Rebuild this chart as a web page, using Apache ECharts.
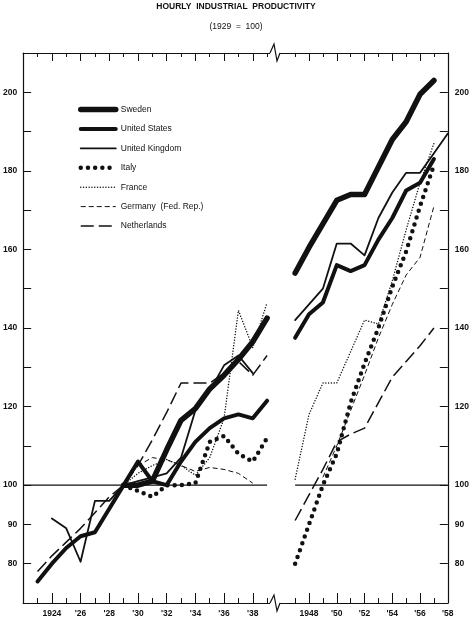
<!DOCTYPE html>
<html>
<head>
<meta charset="utf-8">
<script src="https://cdn.jsdelivr.net/npm/echarts@6/dist/echarts.min.js"></script>
<style>
  html, body { margin: 0; padding: 0; background: #fff; }
  #chart { width: 472px; height: 619px; }
</style>
</head>
<body>
<div id="chart"></div>
<script>
// years on each side of the break
const leftYears = [1923, 1924, 1925, 1926, 1927, 1928, 1929, 1930, 1931, 1932, 1933, 1934, 1935, 1936, 1937, 1938, 1939];
const rightYears = [1947, 1948, 1949, 1950, 1951, 1952, 1953, 1954, 1955, 1956, 1957, 1958];

// tick / label values
const leftLongTicks = [1924, 1926, 1928, 1930, 1932, 1934, 1936, 1938];
const leftShortTicks = [1923, 1925, 1927, 1929, 1931, 1933, 1935, 1937, 1939];
const rightLongTicks = [1948, 1950, 1952, 1954, 1956, 1958];
const rightShortTicks = [1947, 1949, 1951, 1953, 1955, 1957];
const yTicks = [80, 90, 100, 110, 120, 130, 140, 150, 160, 170, 180, 190, 200];
const yLabels = [80, 90, 100, 120, 140, 160, 180, 200];

// index, 1929 = 100 (left: 1923-39, right: 1947-58)
const swedenLeft = [null, null, null, null, null, null, 100, 100, 101, 109, 116.5, 119.5, 124.5, 128, 132, 136.5, 142.5];
const swedenRight = [154, 160.5, 166.5, 172.5, 174, 174, 181, 188, 192.5, 199.5, 203, null];
const usLeft = [75.5, 80, 84, 87, 88, 94, 100, 106, 101, 100, 106, 111, 114.5, 117, 118, 117, 121.5];
const usRight = [137.5, 143.5, 146.5, 156, 154.5, 156, 162.5, 168, 175, 177, 183, null];
const ukLeft = [null, 91.5, 89, 80.5, 96, 96, 100, 101, 102, 103, 107, 119, 124, 130.5, 133, 128.5, null];
const ukRight = [142, 146, 150, 161.5, 161.5, 158.5, 168, 174.5, 179.5, 179.5, 184.5, 189.5];
const italyLeft = [null, null, null, null, null, null, 100, 98.5, 97, 100, 100, 100.5, 111, 112.5, 108, 106, 112];
const italyRight = [80, 90, 100, 108, 121, 131, 140, 150.5, 159.5, 171, 181.5, null];
const franceLeft = [null, null, null, null, null, null, 100, 103, 105, 106.5, 105, 102.5, 107, 117, 144.5, 135, 146.5];
const franceRight = [101.5, 118, 126, 126, 134, 142, 141, 152, 165, 177, 187, null];
const germanyLeft = [null, null, null, null, null, null, 100, 105, 107, 106.5, 105, 103.5, 104.5, 104, 103, 100.5, null];
const germanyRight = [null, null, 102, 110, 119, 128, 137.5, 146, 153.5, 158, 171, null];
const netherlandsLeft = [78, 82, 85.5, 89, 93, 97, 100, 105, 111.5, 118.5, 126, 126, 126, 128.5, 131.5, 128, 133];
const netherlandsRight = [91, 97.5, 104, 111, 113, 114.5, 121, 127.5, 131.5, 135.5, 140, null];

const countries = ['Sweden', 'United States', 'United Kingdom', 'Italy', 'France', 'Germany  (Fed. Rep.)', 'Netherlands'];
const leftValues = [swedenLeft, usLeft, ukLeft, italyLeft, franceLeft, germanyLeft, netherlandsLeft];
const rightValues = [swedenRight, usRight, ukRight, italyRight, franceRight, germanyRight, netherlandsRight];

const lineStyles = [
  { width: 5.5, type: 'solid', cap: 'round', join: 'round' },
  { width: 4, type: 'solid', cap: 'round', join: 'round' },
  { width: 1.8, type: 'solid', cap: 'round', join: 'round' },
  { width: 4.5, type: [0, 7.2], cap: 'round', join: 'round' },
  { width: 1.5, type: [0, 2.8], cap: 'round', join: 'round' },
  { width: 1, type: [5, 3], cap: 'butt', join: 'round' },
  { width: 1.5, type: [13, 5], cap: 'butt', join: 'round' }
];

const FONT = 'Liberation Sans';
const INK = '#111';

const pairs = (years, vals) => years.map((y, i) => [y, vals[i]]).filter(p => p[1] != null);

const yearLabel = v => (v === 1924 || v === 1948) ? String(v) : "'" + String(v).slice(2);

// four x axes per panel: long and short ticks, top and bottom
function panelAxes(gridIndex, min, max, longTicks, shortTicks) {
  const base = { type: 'value', gridIndex, min, max, splitLine: { show: false } };
  const line = { show: true, lineStyle: { color: INK, width: 1.2 } };
  return [
    { ...base, position: 'bottom', axisLine: line,
      axisTick: { inside: true, length: 10, customValues: longTicks, lineStyle: { color: INK, width: 1 } },
      axisLabel: { customValues: longTicks, formatter: yearLabel, margin: 6, color: INK,
        fontFamily: FONT, fontSize: 8.5, fontWeight: 'bold' } },
    { ...base, position: 'bottom', axisLine: { show: false },
      axisTick: { inside: true, length: 5, customValues: shortTicks, lineStyle: { color: INK, width: 1 } },
      axisLabel: { show: false } },
    { ...base, position: 'top', axisLine: line,
      axisTick: { inside: true, length: 8, customValues: longTicks, lineStyle: { color: INK, width: 1 } },
      axisLabel: { show: false } },
    { ...base, position: 'top', axisLine: { show: false },
      axisTick: { inside: true, length: 4, customValues: shortTicks, lineStyle: { color: INK, width: 1 } },
      axisLabel: { show: false } }
  ];
}

function yAxisFor(gridIndex, position) {
  return {
    type: 'value', gridIndex, position, min: 70, max: 210,
    splitLine: { show: false },
    axisLine: { show: true, lineStyle: { color: INK, width: 1.2 } },
    axisTick: { inside: true, length: 8, customValues: yTicks, lineStyle: { color: INK, width: 1 } },
    axisLabel: { customValues: yLabels, margin: position === 'right' ? 7 : 6, color: INK,
      fontFamily: FONT, fontSize: 8.5, fontWeight: 'bold' }
  };
}

const series = [];
countries.forEach((name, i) => {
  series.push({
    name, type: 'line', xAxisIndex: 0, yAxisIndex: 0, symbol: 'none',
    itemStyle: { color: INK, opacity: 0 },
    lineStyle: { color: INK, ...lineStyles[i] }, data: pairs(leftYears, leftValues[i]), z: 3
  });
  series.push({
    name, type: 'line', xAxisIndex: 4, yAxisIndex: 1, symbol: 'none',
    itemStyle: { color: INK, opacity: 0 },
    lineStyle: { color: INK, ...lineStyles[i] }, data: pairs(rightYears, rightValues[i]), z: 3
  });
});
// base lines at 100
series.push({ name: 'base', type: 'line', xAxisIndex: 0, yAxisIndex: 0, symbol: 'none', silent: true,
  lineStyle: { color: INK, width: 1.2 }, data: [[1922, 100], [1939, 100]], z: 2 });
series.push({ name: 'base', type: 'line', xAxisIndex: 4, yAxisIndex: 1, symbol: 'none', silent: true,
  lineStyle: { color: INK, width: 1.2 }, data: [[1947, 100], [1958, 100]], z: 2 });

const chart = echarts.init(document.getElementById('chart'), null, { renderer: 'canvas' });

const GRID_TOP = 53, GRID_H = 550, BREAK_X = 275;

chart.setOption({
  animation: false,
  backgroundColor: '#fff',
  title: [
    { text: 'HOURLY  INDUSTRIAL  PRODUCTIVITY', left: 'center', top: 2, padding: 0,
      textStyle: { fontFamily: FONT, fontSize: 8.5, fontWeight: 'bold', color: INK } },
    { text: '(1929  =  100)', left: 'center', top: 22, padding: 0,
      textStyle: { fontFamily: FONT, fontSize: 8.5, fontWeight: 'normal', color: INK } }
  ],
  legend: {
    // legend samples keep each series' own stroke width
    data: countries.map((name, i) => ({
      name,
      lineStyle: { width: lineStyles[i].width, type: lineStyles[i].type, cap: lineStyles[i].cap, color: INK }
    })),
    orient: 'vertical', left: 78, top: 104, padding: 0,
    itemWidth: 35, itemHeight: 14, itemGap: 8.2, selectedMode: false,
    itemStyle: { opacity: 0 },
    textStyle: { fontFamily: FONT, fontSize: 8.5, color: INK }
  },
  grid: [
    { left: 23, top: GRID_TOP, width: BREAK_X - 23, height: GRID_H },
    { left: BREAK_X, top: GRID_TOP, width: 453 - BREAK_X, height: GRID_H }
  ],
  xAxis: [
    ...panelAxes(0, 1922, 1939.55, leftLongTicks, leftShortTicks),
    ...panelAxes(1, 1945.55, 1958, rightLongTicks, rightShortTicks)
  ],
  yAxis: [yAxisFor(0, 'left'), yAxisFor(1, 'right')],
  series,
  graphic: [
    // break marks on the top and bottom frame lines
    { type: 'rect', z: 100, shape: { x: BREAK_X - 5, y: GRID_TOP - 1.5, width: 10, height: 3 }, style: { fill: '#fff' } },
    { type: 'polyline', z: 101, shape: { points: [[BREAK_X - 5, GRID_TOP], [BREAK_X - 1, GRID_TOP - 9], [BREAK_X + 2, GRID_TOP + 8], [BREAK_X + 5, GRID_TOP]] },
      style: { stroke: INK, lineWidth: 1.2, fill: null } },
    { type: 'rect', z: 100, shape: { x: BREAK_X - 5, y: GRID_TOP + GRID_H - 1.5, width: 10, height: 3 }, style: { fill: '#fff' } },
    { type: 'polyline', z: 101, shape: { points: [[BREAK_X - 5, GRID_TOP + GRID_H], [BREAK_X - 1, GRID_TOP + GRID_H - 8], [BREAK_X + 2, GRID_TOP + GRID_H + 8], [BREAK_X + 5, GRID_TOP + GRID_H]] },
      style: { stroke: INK, lineWidth: 1.2, fill: null } }
  ]
});
</script>
</body>
</html>
